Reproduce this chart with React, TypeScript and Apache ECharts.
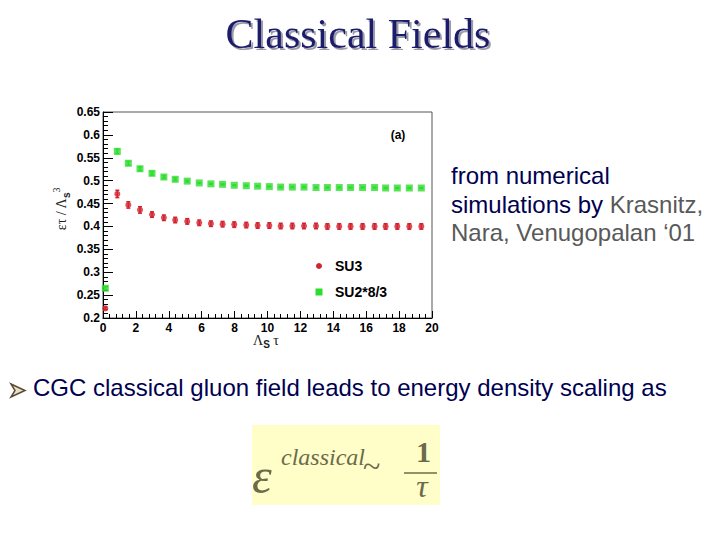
import React, { useEffect, useRef } from "react";
import * as echarts from "echarts";

// Lambda_s * tau positions of the lattice points
const tauValues = [0.14, 0.87, 1.54, 2.25, 2.98, 3.7, 4.39, 5.12, 5.85, 6.56, 7.27, 7.98, 8.71, 9.4, 10.11, 10.8, 11.51, 12.22, 12.95, 13.64, 14.36, 15.05, 15.78, 16.51, 17.18, 17.89, 18.62, 19.35];
// SU3 energy density (epsilon tau / Lambda_s^3)
const su3Values = [0.221, 0.471, 0.447, 0.436, 0.426, 0.419, 0.414, 0.411, 0.408, 0.406, 0.405, 0.404, 0.403, 0.402, 0.402, 0.401, 0.401, 0.401, 0.401, 0.4, 0.4, 0.4, 0.4, 0.4, 0.4, 0.4, 0.4, 0.4];
const su3Errors = [0.003, 0.008, 0.007, 0.007, 0.006, 0.006, 0.006, 0.006, 0.006, 0.006, 0.006, 0.006, 0.006, 0.006, 0.006, 0.006, 0.006, 0.006, 0.006, 0.006, 0.006, 0.006, 0.006, 0.006, 0.006, 0.006, 0.006, 0.006];
// SU2 * 8/3
const su2Values = [0.265, 0.564, 0.538, 0.526, 0.516, 0.508, 0.503, 0.499, 0.495, 0.493, 0.492, 0.49, 0.489, 0.488, 0.487, 0.486, 0.486, 0.486, 0.485, 0.485, 0.485, 0.485, 0.485, 0.485, 0.484, 0.484, 0.484, 0.484];
const su2Errors = [0.003, 0.005, 0.004, 0.004, 0.004, 0.003, 0.003, 0.002, 0.001, 0.001, 0.001, 0.001, 0.001, 0.001, 0.001, 0.001, 0.001, 0.001, 0.001, 0.001, 0.001, 0.001, 0.001, 0.001, 0.001, 0.001, 0.001, 0.001];

const seriesNames = ["SU3", "SU2*8/3"];
const xAxisRange = { min: 0, max: 20, interval: 2 };
const yAxisRange = { min: 0.2, max: 0.65, interval: 0.05 };

const RED = "#d3232e";
const GREEN = "#2edc2e";
const NAVY = "#000050";
const GREY = "#595959";
const OLIVE = "#6b6b4b";

function errorSeries(values: number[], errors: number[], color: string) {
  return {
    type: "custom",
    silent: true,
    z: 1,
    data: tauValues.map((x, i) => [x, values[i] - errors[i], values[i] + errors[i]]),
    encode: { x: 0, y: [1, 2] },
    renderItem: (_params: any, api: any) => {
      const x = api.value(0);
      const lo = api.coord([x, api.value(1)]);
      const hi = api.coord([x, api.value(2)]);
      const cap = 2;
      const st = { stroke: color, lineWidth: 1.5 };
      return {
        type: "group",
        children: [
          { type: "line", shape: { x1: lo[0], y1: lo[1], x2: hi[0], y2: hi[1] }, style: st },
          { type: "line", shape: { x1: lo[0] - cap, y1: lo[1], x2: lo[0] + cap, y2: lo[1] }, style: st },
          { type: "line", shape: { x1: hi[0] - cap, y1: hi[1], x2: hi[0] + cap, y2: hi[1] }, style: st },
        ],
      };
    },
  };
}

function txt(x: number, y: number, text: string, font: string, fill: string, align = "left") {
  return {
    type: "text",
    x,
    y,
    silent: true,
    style: {
      text,
      font,
      fill,
      align,
      textAlign: align,
      verticalAlign: "middle",
      textVerticalAlign: "middle",
    },
  };
}

export default function App() {
  const ref = useRef<HTMLDivElement>(null);

  useEffect(() => {
    if (!ref.current) return;
    const chart = echarts.init(ref.current, undefined, { renderer: "svg" });

    const serifFont = "'Liberation Serif', 'Times New Roman', serif";
    const sansFont = "'Liberation Sans', Arial, sans-serif";

    chart.setOption({
      animation: false,
      backgroundColor: "#ffffff",
      grid: {
        left: 103,
        right: 288,
        top: 112,
        bottom: 222,
        show: true,
        borderColor: "#555",
        borderWidth: 1,
        backgroundColor: "transparent",
      },
      xAxis: {
        type: "value",
        min: xAxisRange.min,
        max: xAxisRange.max,
        interval: xAxisRange.interval,
        axisLine: { lineStyle: { color: "#000", width: 1 } },
        axisTick: { inside: true, length: 7, lineStyle: { color: "#000" } },
        minorTick: { show: true, splitNumber: 5, length: 4, lineStyle: { color: "#000" } },
        splitLine: { show: false },
        axisLabel: { color: "#000", fontWeight: "bold", fontSize: 12, fontFamily: sansFont, margin: 4 },
      },
      yAxis: {
        type: "value",
        min: yAxisRange.min,
        max: yAxisRange.max,
        interval: yAxisRange.interval,
        axisLine: { show: true, lineStyle: { color: "#000", width: 1 } },
        axisTick: { show: true, inside: true, length: 10, lineStyle: { color: "#000" } },
        minorTick: { show: true, splitNumber: 5, length: 5, lineStyle: { color: "#000" } },
        splitLine: { show: false },
        axisLabel: {
          color: "#000",
          fontWeight: "bold",
          fontSize: 12,
          fontFamily: sansFont,
          margin: 3,
          formatter: (v: number) => String(Number(v.toFixed(2))),
        },
      },
      series: [
        errorSeries(su3Values, su3Errors, RED),
        errorSeries(su2Values, su2Errors, GREEN),
        {
          name: seriesNames[0],
          type: "scatter",
          symbol: "circle",
          symbolSize: 6,
          z: 3,
          itemStyle: { color: RED },
          data: tauValues.map((x, i) => [x, su3Values[i]]),
        },
        {
          name: seriesNames[1],
          type: "scatter",
          symbol: "rect",
          symbolSize: 7,
          z: 3,
          itemStyle: { color: GREEN },
          data: tauValues.map((x, i) => [x, su2Values[i]]),
        },
      ],
      graphic: [
        // Title with drop shadow
        {
          type: "text",
          x: 358,
          y: 34,
          silent: true,
          style: {
            text: "Classical Fields",
            font: "42px " + serifFont,
            fill: "#1c1c6c",
            align: "center",
            textAlign: "center",
            verticalAlign: "middle",
            textVerticalAlign: "middle",
            shadowColor: "rgba(120,120,140,0.75)",
            shadowOffsetX: 2,
            shadowOffsetY: 2,
            shadowBlur: 1,
            textShadowColor: "rgba(120,120,140,0.75)",
            textShadowOffsetX: 2,
            textShadowOffsetY: 2,
            textShadowBlur: 1,
          },
        },
        // Plot annotations
        txt(398, 135, "(a)", "bold 12px " + sansFont, "#000", "center"),
        { type: "circle", silent: true, shape: { cx: 319, cy: 266, r: 3 }, style: { fill: RED } },
        txt(335, 266, seriesNames[0], "bold 14px " + sansFont, "#000"),
        { type: "rect", silent: true, shape: { x: 315.5, y: 288.5, width: 7, height: 7 }, style: { fill: GREEN } },
        txt(335, 292, seriesNames[1], "bold 14px " + sansFont, "#000"),
        // Axis titles
        {
          type: "text",
          x: 61,
          y: 209,
          rotation: Math.PI / 2,
          silent: true,
          style: {
            text: "{m|ετ / Λ}{s|s}{p|3}",
            align: "center",
            textAlign: "center",
            verticalAlign: "middle",
            textVerticalAlign: "middle",
            fill: "#222",
            rich: {
              m: { fontSize: 14, fontFamily: serifFont, lineHeight: 20, verticalAlign: "middle", fill: "#222", color: "#222" },
              s: { fontSize: 10, fontWeight: "bold", fontFamily: sansFont, lineHeight: 20, verticalAlign: "bottom", fill: "#222", color: "#222" },
              p: { fontSize: 10, fontFamily: serifFont, lineHeight: 20, verticalAlign: "top", fill: "#222", color: "#222" },
            },
          },
        },
        {
          type: "text",
          x: 266,
          y: 340,
          silent: true,
          style: {
            text: "{m|Λ}{s|S}{m| τ}",
            align: "center",
            textAlign: "center",
            verticalAlign: "middle",
            textVerticalAlign: "middle",
            fill: "#222",
            rich: {
              m: { fontSize: 14, fontFamily: serifFont, lineHeight: 18, verticalAlign: "middle", fill: "#222", color: "#222" },
              s: { fontSize: 10, fontWeight: "bold", fontFamily: sansFont, lineHeight: 18, verticalAlign: "bottom", fill: "#222", color: "#222" },
            },
          },
        },
        // Right-hand text
        txt(451, 175.5, "from numerical", "24px " + sansFont, NAVY),
        {
          type: "text",
          x: 451,
          y: 204.2,
          silent: true,
          style: {
            text: "{n|simulations by }{g|Krasnitz,}",
            align: "left",
            textAlign: "left",
            verticalAlign: "middle",
            textVerticalAlign: "middle",
            rich: {
              n: { fontSize: 24, fontFamily: sansFont, fill: NAVY, color: NAVY },
              g: { fontSize: 24, fontFamily: sansFont, fill: GREY, color: GREY },
            },
          },
        },
        txt(451, 232.9, "Nara, Venugopalan \u201801", "24px " + sansFont, GREY),
        // Bullet
        {
          type: "polygon",
          silent: true,
          shape: { points: [[11, 384], [25, 390.5], [11, 397], [15, 390.5]] },
          style: { fill: "#e6dfc8", stroke: "#5a4b33", lineWidth: 1.5 },
        },
        txt(33, 387.5, "CGC classical gluon field leads to energy density scaling as", "24px " + sansFont, NAVY),
        // Formula box
        { type: "rect", silent: true, shape: { x: 252, y: 425, width: 188, height: 80 }, style: { fill: "#fffdc8" } },
        txt(252, 476, "ε", "italic 50px " + serifFont, OLIVE),
        txt(281, 457, "classical", "italic 24px " + serifFont, OLIVE),
        txt(363, 466, "~", "32px " + serifFont, OLIVE),
        txt(423.5, 451.6, "1", "bold 30px " + serifFont, OLIVE, "center"),
        { type: "line", silent: true, shape: { x1: 404, y1: 473, x2: 437, y2: 473 }, style: { stroke: OLIVE, lineWidth: 1.5 } },
        txt(422, 486, "τ", "italic 32px " + serifFont, OLIVE, "center"),
      ],
    });

    return () => chart.dispose();
  }, []);

  return (
    <div
      ref={ref}
      style={{ position: "absolute", left: 0, top: 0, width: 720, height: 540, background: "#fff" }}
    />
  );
}
